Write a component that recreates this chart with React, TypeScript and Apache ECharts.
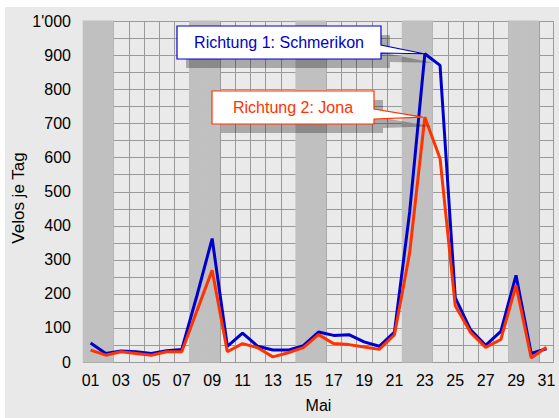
import React, { useEffect, useRef } from "react";
import * as echarts from "echarts";

const days = ["01","02","03","04","05","06","07","08","09","10","11","12","13","14","15","16","17","18","19","20","21","22","23","24","25","26","27","28","29","30","31"];
const weekendDays = ["01","02","08","09","15","16","22","23","29","30"];
const schmerikon = [56,25,32,30,25,33,37,195,362,46,85,46,35,35,48,88,78,80,59,46,88,440,904,870,189,95,49,90,254,25,39];
const jona = [35,20,30,25,20,30,30,150,269,30,54,42,15,27,42,80,54,51,44,37,80,320,718,597,165,87,43,66,225,12,43];
const seriesNames = ["Richtung 1: Schmerikon", "Richtung 2: Jona"];
const yTicks = [0,100,200,300,400,500,600,700,800,900,1000];
const yGridLines = [0,50,100,150,200,250,300,350,400,450,500,550,600,650,700,750,800,850,900,950,1000];

const BLUE = "#0000cc";
const RED = "#ff3300";
const GRIDC = "#9a9a9a";
const BAND = "#c0c0c0";
const FONT = "Liberation Sans, Arial, sans-serif";

function fmt(v: number) {
  if (v >= 1000) {
    const s = String(v);
    return s.slice(0, s.length - 3) + "'" + s.slice(s.length - 3);
  }
  return String(v);
}

function callout(box: number[], base: number[], tip: number[], color: string, text: string) {
  const [x0, y0, x1, y1] = box;
  const pts = [[x0, y0], [x1, y0], [x1, base[0]], tip, [x1, base[1]], [x1, y1], [x0, y1]];
  const sh = 9;
  const shadowPts = pts.map((p) => [p[0] + sh, p[1] + sh]);
  return [
    { type: "polygon", silent: true, z: 100, shape: { points: shadowPts }, style: { fill: "rgba(0,0,0,0.28)", stroke: "none" } },
    { type: "polygon", silent: true, z: 101, shape: { points: pts }, style: { fill: "#ffffff", stroke: color, lineWidth: 1.2 } },
    {
      type: "text", silent: true, z: 102,
      x: (x0 + x1) / 2, y: (y0 + y1) / 2,
      style: { text, fill: color, font: "16px " + FONT, align: "center", verticalAlign: "middle" },
    },
  ];
}

export default function App() {
  const ref = useRef<HTMLDivElement>(null);
  useEffect(() => {
    if (!ref.current) return;
    const chart = echarts.init(ref.current, undefined, { renderer: "svg" });
    chart.setOption({
      animation: false,
      backgroundColor: "#e9e9e9",
      textStyle: { fontFamily: FONT },
      grid: { left: 78, top: 14, right: 5, bottom: 52, show: true, backgroundColor: "#eaeaea", borderWidth: 0 },
      xAxis: {
        type: "category",
        data: days,
        boundaryGap: true,
        name: "Mai",
        nameLocation: "middle",
        nameGap: 35,
        nameTextStyle: { fontSize: 16, color: "#000", fontFamily: FONT },
        axisLine: { show: false },
        axisTick: { show: false },
        axisLabel: { interval: 1, fontSize: 16, color: "#000", margin: 10, fontFamily: FONT },
        splitLine: { show: false },
      },
      yAxis: {
        type: "value",
        min: 0,
        max: 1000,
        interval: 50,
        axisLine: { show: false },
        axisTick: { show: false },
        axisLabel: {
          fontSize: 16, color: "#000", margin: 12, fontFamily: FONT,
          formatter: (v: number) => (yTicks.includes(v) ? fmt(v) : ""),
        },
        splitLine: { show: false },
      },
      series: [
        {
          // horizontal grid lines
          type: "custom",
          silent: true,
          z: 1,
          data: yGridLines.map((v) => [0, v]),
          renderItem: (params: any, api: any) => {
            const cs = params.coordSys;
            const y = Math.round(api.coord([0, api.value(1)])[1]) + 0.5;
            return { type: "line", shape: { x1: cs.x, y1: y, x2: cs.x + cs.width, y2: y }, style: { stroke: GRIDC, lineWidth: 1 } };
          },
        },
        {
          // vertical grid lines at day boundaries
          type: "custom",
          silent: true,
          z: 1,
          data: days.map((d, i) => [i, 0]),
          renderItem: (params: any, api: any) => {
            const cs = params.coordSys;
            const i = api.value(0);
            const w = api.size([1, 0])[0];
            const cx = api.coord([i, 0])[0];
            const children: any[] = [];
            const xl = Math.round(cx - w / 2) + 0.5;
            children.push({ type: "line", shape: { x1: xl, y1: cs.y, x2: xl, y2: cs.y + cs.height }, style: { stroke: GRIDC, lineWidth: 1 } });
            if (i === days.length - 1) {
              const xr = Math.round(cx + w / 2) - 0.5;
              children.push({ type: "line", shape: { x1: xr, y1: cs.y, x2: xr, y2: cs.y + cs.height }, style: { stroke: GRIDC, lineWidth: 1 } });
            }
            return { type: "group", children };
          },
        },
        {
          // weekend bands
          type: "custom",
          silent: true,
          z: 2,
          data: days.filter((d) => weekendDays.includes(d)).map((d) => [days.indexOf(d), 1000]),
          renderItem: (params: any, api: any) => {
            const i = api.value(0);
            const w = api.size([1, 0])[0];
            const cx = api.coord([i, 0])[0];
            const top = api.coord([i, api.value(1)])[1];
            const bottom = api.coord([i, 0])[1];
            return {
              type: "rect",
              shape: { x: cx - w / 2 - 0.3, y: top - 0.5, width: w + 0.6, height: bottom - top + 1 },
              style: { fill: BAND, stroke: "none" },
            };
          },
        },
        {
          type: "line",
          z: 3,
          name: seriesNames[0],
          data: schmerikon,
          symbol: "none",
          lineStyle: { color: BLUE, width: 3 },
          itemStyle: { color: BLUE },
        },
        {
          type: "line",
          z: 4,
          name: seriesNames[1],
          data: jona,
          symbol: "none",
          lineStyle: { color: RED, width: 3 },
          itemStyle: { color: RED },
        },
      ],
    });
    const peakIdx = 22;
    const tipBlue = chart.convertToPixel({ seriesIndex: 3 }, [peakIdx, schmerikon[peakIdx]]) as number[];
    const tipRed = chart.convertToPixel({ seriesIndex: 4 }, [peakIdx, jona[peakIdx]]) as number[];
    chart.setOption({
      graphic: [
        ...callout([172, 19, 376, 52], [38, 46], [tipBlue[0] - 1, tipBlue[1]], BLUE, seriesNames[0]),
        ...callout([207, 84, 369, 117], [102, 112], [tipRed[0] - 2, tipRed[1]], RED, seriesNames[1]),
        {
          type: "text", silent: true, x: 13, y: 191, rotation: Math.PI / 2,
          style: { text: "Velos je Tag", fill: "#000", font: "17px " + FONT, align: "center", verticalAlign: "middle" },
        },
      ],
    });
    return () => chart.dispose();
  }, []);
  return (
    <div style={{ position: "absolute", left: 0, top: 0, width: 559, height: 418, background: "#fff" }}>
      <div ref={ref} style={{ position: "absolute", left: 5, top: 7, width: 554, height: 411 }} />
    </div>
  );
}
